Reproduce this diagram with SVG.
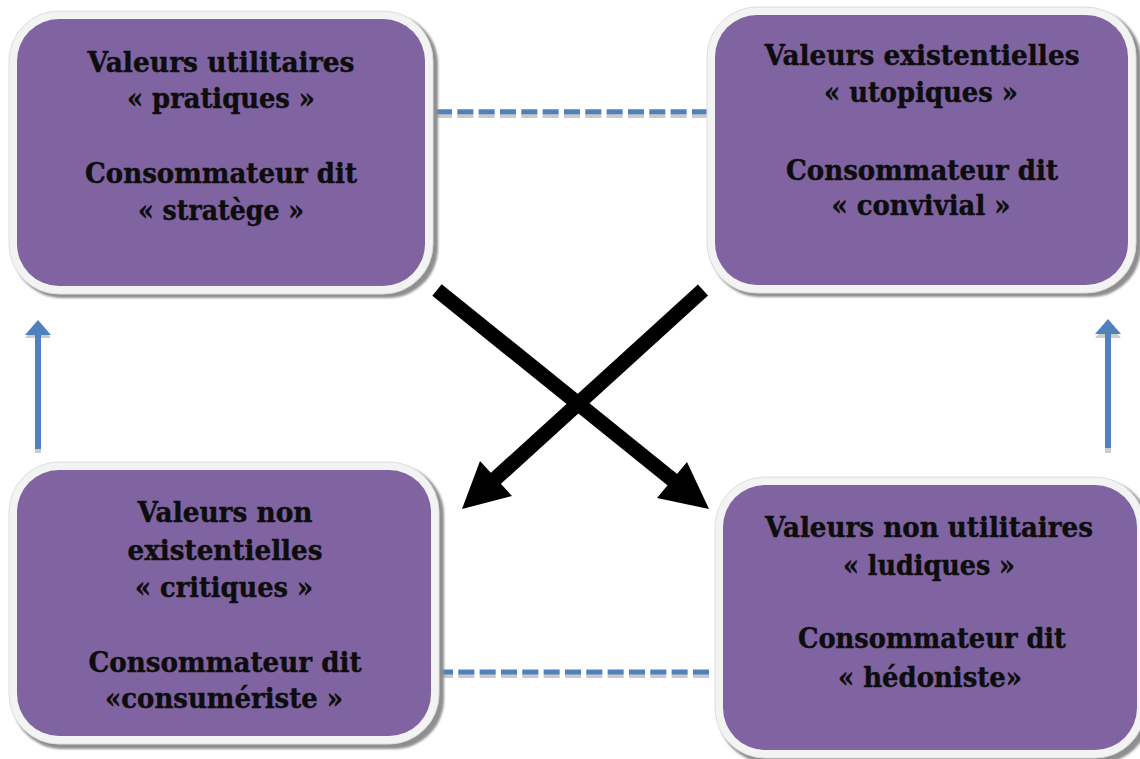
<svg xmlns="http://www.w3.org/2000/svg" width="1140" height="759" viewBox="0 0 1140 759">
<defs>
<filter id="sh" x="-5%" y="-5%" width="110%" height="110%"><feGaussianBlur stdDeviation="1.2"/></filter>
<style>
.shadow{fill:#8f8f8f;filter:url(#sh)}
.frame{fill:#f3f3f3;stroke:#dedede;stroke-width:1}
.body{fill:#8064A2}
.t{font-family:"DejaVu Serif","Liberation Serif",serif;font-weight:bold;font-size:27.5px;fill:#0d0d0d;stroke:#0d0d0d;stroke-width:0.45;text-anchor:middle}
.dash{stroke:#4F81BD;stroke-width:5;stroke-dasharray:16 5.33;fill:none}
.dashsh{stroke:#c9c9c9;stroke-width:5;stroke-dasharray:16 5.33;fill:none}
.blue{stroke:#4F81BD;stroke-width:6;fill:none}
.bluesh{stroke:#cccccc;stroke-width:6;fill:none}
.blk{stroke:#000;stroke-width:15;fill:none}
</style>
</defs>
<rect width="1140" height="759" fill="#ffffff"/>

<g id="connectors">
  <line class="dashsh" x1="436" y1="115.5" x2="708" y2="115.5"/>
  <line class="dash" x1="436" y1="111.8" x2="708" y2="111.8"/>
  <line class="dashsh" x1="437" y1="675.5" x2="709" y2="675.5"/>
  <line class="dash" x1="437" y1="672" x2="709" y2="672"/>

  <line class="bluesh" x1="38" y1="453" x2="38" y2="338"/>
  <polygon points="25,338 51,338 38,323" fill="#cccccc"/>
  <line class="blue" x1="38" y1="449" x2="38" y2="333"/>
  <polygon points="25,335 51,335 38,320" fill="#4F81BD"/>

  <line class="bluesh" x1="1108" y1="453" x2="1108" y2="338"/>
  <polygon points="1095,338 1121,338 1108,323" fill="#cccccc"/>
  <line class="blue" x1="1108" y1="448" x2="1108" y2="333"/>
  <polygon points="1095,334 1121,334 1108,319" fill="#4F81BD"/>

  <line class="blk" x1="437" y1="290" x2="674" y2="481"/>
  <polygon points="687,462 709,509 657,498" fill="#000"/>
  <line class="blk" x1="703" y1="290" x2="494" y2="480"/>
  <polygon points="480,461 462,509 512,496" fill="#000"/>
</g>

<g id="node-tl">
  <rect class="shadow" x="12" y="14" width="426" height="284" rx="50"/>
  <rect class="frame" x="9" y="11" width="424" height="283" rx="50"/>
  <rect class="body" x="17" y="19" width="408" height="267" rx="42"/>
  <text class="t" x="221" y="72" textLength="267" lengthAdjust="spacingAndGlyphs">Valeurs utilitaires</text>
  <text class="t" x="221" y="108" textLength="188" lengthAdjust="spacingAndGlyphs">« pratiques »</text>
  <text class="t" x="221" y="183" textLength="272" lengthAdjust="spacingAndGlyphs">Consommateur dit</text>
  <text class="t" x="221" y="220" textLength="166" lengthAdjust="spacingAndGlyphs">« stratège »</text>
</g>

<g id="node-tr">
  <rect class="shadow" x="710" y="10" width="431" height="287" rx="50"/>
  <rect class="frame" x="707" y="7" width="429" height="286" rx="50"/>
  <rect class="body" x="715" y="15" width="413" height="270" rx="42"/>
  <text class="t" x="922" y="65" textLength="315" lengthAdjust="spacingAndGlyphs">Valeurs existentielles</text>
  <text class="t" x="921" y="102" textLength="194" lengthAdjust="spacingAndGlyphs">« utopiques »</text>
  <text class="t" x="922" y="180" textLength="272" lengthAdjust="spacingAndGlyphs">Consommateur dit</text>
  <text class="t" x="921" y="215" textLength="179" lengthAdjust="spacingAndGlyphs">« convivial »</text>
</g>

<g id="node-bl">
  <rect class="shadow" x="12" y="465" width="432" height="284" rx="50"/>
  <rect class="frame" x="9" y="462" width="430" height="282" rx="50"/>
  <rect class="body" x="17" y="470" width="414" height="266" rx="42"/>
  <text class="t" x="225" y="522" textLength="175" lengthAdjust="spacingAndGlyphs">Valeurs non</text>
  <text class="t" x="225" y="560" textLength="195" lengthAdjust="spacingAndGlyphs">existentielles</text>
  <text class="t" x="224" y="597" textLength="178" lengthAdjust="spacingAndGlyphs">« critiques »</text>
  <text class="t" x="225" y="672" textLength="273" lengthAdjust="spacingAndGlyphs">Consommateur dit</text>
  <text class="t" x="224" y="708" textLength="238" lengthAdjust="spacingAndGlyphs">«consumériste »</text>
</g>

<g id="node-br">
  <rect class="shadow" x="718" y="480" width="432" height="283" rx="50"/>
  <rect class="frame" x="715" y="477" width="430" height="281" rx="50"/>
  <rect class="body" x="723" y="485" width="414" height="265" rx="42"/>
  <text class="t" x="929" y="537" textLength="328" lengthAdjust="spacingAndGlyphs">Valeurs non utilitaires</text>
  <text class="t" x="929" y="575" textLength="172" lengthAdjust="spacingAndGlyphs">« ludiques »</text>
  <text class="t" x="932" y="648" textLength="268" lengthAdjust="spacingAndGlyphs">Consommateur dit</text>
  <text class="t" x="930" y="687" textLength="184" lengthAdjust="spacingAndGlyphs">« hédoniste»</text>
</g>
</svg>
